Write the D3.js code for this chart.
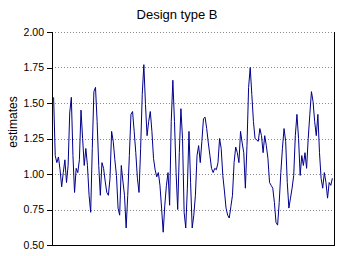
<!DOCTYPE html>
<html>
<head>
<meta charset="utf-8">
<script src="https://cdn.jsdelivr.net/npm/d3@7"></script>
<style>
  body { margin: 0; background: #fff; }
  svg { display: block; font-family: "Liberation Sans", Arial, sans-serif; }
  .grid line { stroke: #8a8a8a; stroke-width: 1; stroke-dasharray: 1,2; shape-rendering: crispEdges; }
  .frame { fill: none; stroke: #000; stroke-width: 1; shape-rendering: crispEdges; }
</style>
</head>
<body>
<div id="chart"></div>
<script>
// chart texts
var title = "Design type B";
var yLabel = "estimates";
var yTicks = [0.50, 0.75, 1.00, 1.25, 1.50, 1.75, 2.00];

// estimates left to right
var estimates = [
  1.54,1.13,1.08,1.12,1.03,0.91,1.01,1.10,0.94,1.06,1.43,1.54,1.13,0.87,1.04,1.01,1.10,1.45,1.25,1.06,1.18,1.06,0.85,0.73,1.18,1.58,1.61,1.37,1.06,
  0.85,1.08,1.04,0.95,0.87,0.85,0.97,1.30,1.23,1.10,0.99,0.76,0.71,1.06,0.95,0.85,0.62,0.85,1.13,1.42,1.44,1.30,1.15,0.97,0.87,1.18,1.56,1.77,1.49,1.27,
  1.37,1.44,1.30,1.11,1.03,0.98,1.01,0.92,0.76,0.59,0.78,0.92,1.01,0.78,1.37,1.66,1.37,1.01,0.75,1.15,1.46,1.25,0.73,0.62,0.90,1.30,0.94,0.62,0.71,
  0.85,1.13,1.20,1.08,1.23,1.39,1.40,1.32,1.22,1.13,1.04,1.01,1.04,1.03,1.08,1.25,1.18,0.99,0.88,0.76,0.71,0.69,0.77,0.85,1.08,1.19,1.15,1.08,1.30,1.22,
  1.15,0.90,1.20,1.61,1.75,1.56,1.37,1.25,1.24,1.23,1.32,1.27,1.15,1.27,1.20,1.11,0.94,0.92,0.90,0.80,0.66,0.64,0.80,1.01,1.18,1.32,1.23,0.94,0.76,0.83,
  0.90,0.99,1.27,1.42,1.25,0.99,1.13,1.06,1.15,1.04,1.25,1.42,1.58,1.51,1.37,1.27,1.42,1.15,0.97,0.90,1.01,0.94,0.83,0.94,0.92,0.97
];

var W = 341, H = 256;
var margin = { top: 32, right: 7, bottom: 11, left: 52 };
var width = W - margin.left - margin.right,
    height = H - margin.top - margin.bottom;

var svg = d3.select("#chart").append("svg")
    .attr("width", W)
    .attr("height", H);

var g = svg.append("g")
    .attr("transform", "translate(" + margin.left + "," + margin.top + ")");

var x = d3.scaleLinear().domain([-1, estimates.length]).range([0, width]);
var y = d3.scaleLinear().domain([0.5, 2.0]).range([height, 0]);

// dotted grid lines
g.append("g").attr("class", "grid")
  .selectAll("line")
  .data(yTicks.filter(function (d) { return d > 0.5; }))
  .enter().append("line")
    .attr("x1", 0).attr("x2", width)
    .attr("y1", function (d) { return Math.round(y(d)) + 0.5; })
    .attr("y2", function (d) { return Math.round(y(d)) + 0.5; });

// left axis
var yAxis = d3.axisLeft(y)
    .tickValues(yTicks)
    .tickFormat(d3.format(".2f"))
    .tickSize(5)
    .tickPadding(3);

var ax = g.append("g").call(yAxis);
ax.select(".domain").remove();
ax.selectAll("line").attr("shape-rendering", "crispEdges");
ax.selectAll("text").style("font-size", "10.5px").attr("fill", "#000");

// frame: left, right and bottom solid
g.append("path").attr("class", "frame")
  .attr("d", "M0.5,0V" + (height + 0.5) + "H" + (width + 0.5) + "V0");

// the series
var line = d3.line()
    .x(function (d, i) { return x(i); })
    .y(function (d) { return y(d); });

g.append("path")
  .datum(estimates)
  .attr("fill", "none")
  .attr("stroke", "#00008b")
  .attr("stroke-width", 1)
  .attr("d", line);

// title
svg.append("text")
  .attr("x", 177)
  .attr("y", 19)
  .attr("text-anchor", "middle")
  .style("font-size", "13px")
  .text(title);

// y label
svg.append("text")
  .attr("transform", "translate(17,122) rotate(-90)")
  .attr("text-anchor", "middle")
  .style("font-size", "12px")
  .text(yLabel);
</script>
</body>
</html>
